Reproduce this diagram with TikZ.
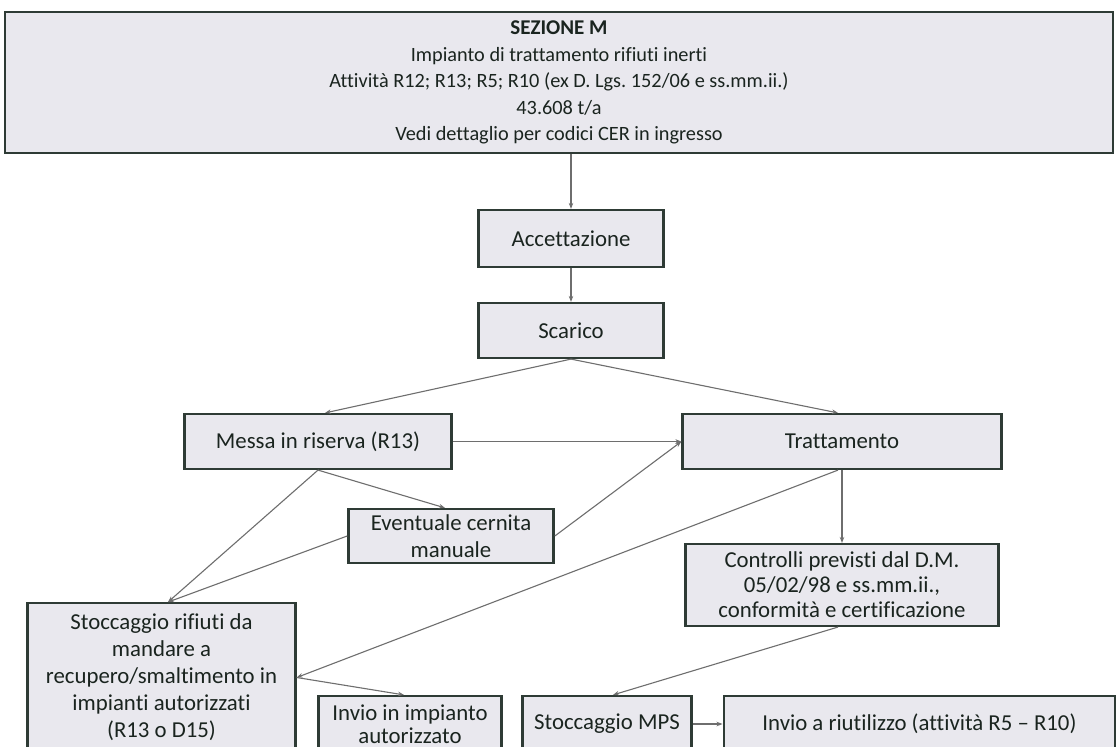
\documentclass[tikz,border=0pt]{standalone}
\usepackage{fontspec}
\setmainfont{Carlito}[Ligatures=NoCommon]
\frenchspacing
\usetikzlibrary{arrows.meta}
\definecolor{boxfill}{HTML}{E9E8EE}
\definecolor{boxline}{HTML}{2E3B35}
\definecolor{linkgray}{HTML}{6E6E6E}
\definecolor{inkdark}{HTML}{1A241F}
\begin{document}
\begin{tikzpicture}[x=1bp,y=-1bp,
  stagebox/.style={draw=boxline, line width=2.4bp, fill=boxfill, text=inkdark,
    inner sep=0pt, align=center, font=\fontsize{22.8bp}{27bp}\selectfont},
  headbox/.style={stagebox, font=\fontsize{20.3bp}{26.5bp}\selectfont},
  link/.style={draw=linkgray, line width=1.1bp, -{Stealth[length=6bp,width=4.5bp]}}]
\useasboundingbox (0,0) rectangle (1118,747);
\fill[white] (0,0) rectangle (1118,747);

% process boxes
\node[headbox, minimum width=1112, minimum height=141] (head) at (559,82.5)
  {{\fontsize{21bp}{26.5bp}\selectfont\bfseries SEZIONE M}\\
   Impianto di trattamento rifiuti inerti\\
   Attività R12; R13; R5; R10 (ex D. Lgs. 152/06 e ss.mm.ii.)\\
   43.608 t/a\\
   Vedi dettaglio per codici CER in ingresso};
\node[stagebox, minimum width=186, minimum height=57] (acc) at (571,238.5) {Accettazione};
\node[stagebox, minimum width=186, minimum height=55] (sca) at (571,330.5) {Scarico};
\node[stagebox, minimum width=268, minimum height=55] (mes) at (318,441.5) {Messa in riserva (R13)};
\node[stagebox, minimum width=320, minimum height=55] (tra) at (842,441.5) {Trattamento};
\node[stagebox, minimum width=206, minimum height=54] (eve) at (451,536) {Eventuale cernita\\manuale};
\node[stagebox, minimum width=314, minimum height=82, font=\fontsize{22.8bp}{25bp}\selectfont] (con) at (842,585)
  {Controlli previsti dal D.M.\\05/02/98 e ss.mm.ii.,\\conformità e certificazione};
\node[stagebox, minimum width=269, minimum height=149] (sto) at (161.5,677.5)
  {Stoccaggio rifiuti da\\mandare a\\recupero/smaltimento in\\impianti autorizzati\\(R13 o D15)};
\node[stagebox, minimum width=184, minimum height=56, font=\fontsize{22.8bp}{23.5bp}\selectfont] (inv) at (410,724)
  {Invio in impianto\\autorizzato};
\node[stagebox, minimum width=170, minimum height=56] (mps) at (607,724) {Stoccaggio MPS};
\node[stagebox, minimum width=393, minimum height=56] (riu) at (919.5,724) {Invio a riutilizzo (attività R5 – R10)};

% flow connectors
\draw[link] (acc.north |- head.south) -- (acc.north);
\draw[link] (acc) -- (sca);
\draw[link] (sca.south) -- ([xshift=7bp]mes.north);
\draw[link] (sca.south) -- ([xshift=-4bp]tra.north);
\draw[link] (mes.east) -- (tra.west);
\draw[link] (mes.south) -- ([xshift=-6bp]eve.north);
\draw[link] (mes.south) -- ([xshift=6.5bp]sto.north);
\draw[link] (eve.west) -- ([xshift=6.5bp]sto.north);
\draw[link] (eve.east) -- (tra.west);
\draw[link] ([xshift=-4bp]tra.south) -- (sto.east);
\draw[link] (tra.south) -- (con.north);
\draw[link] (sto.east) -- ([xshift=-6bp]inv.north);
\draw[link] ([xshift=-4bp]con.south) -- ([xshift=6bp]mps.north);
\draw[link] (mps.east) -- (riu.west);
\end{tikzpicture}
\end{document}
